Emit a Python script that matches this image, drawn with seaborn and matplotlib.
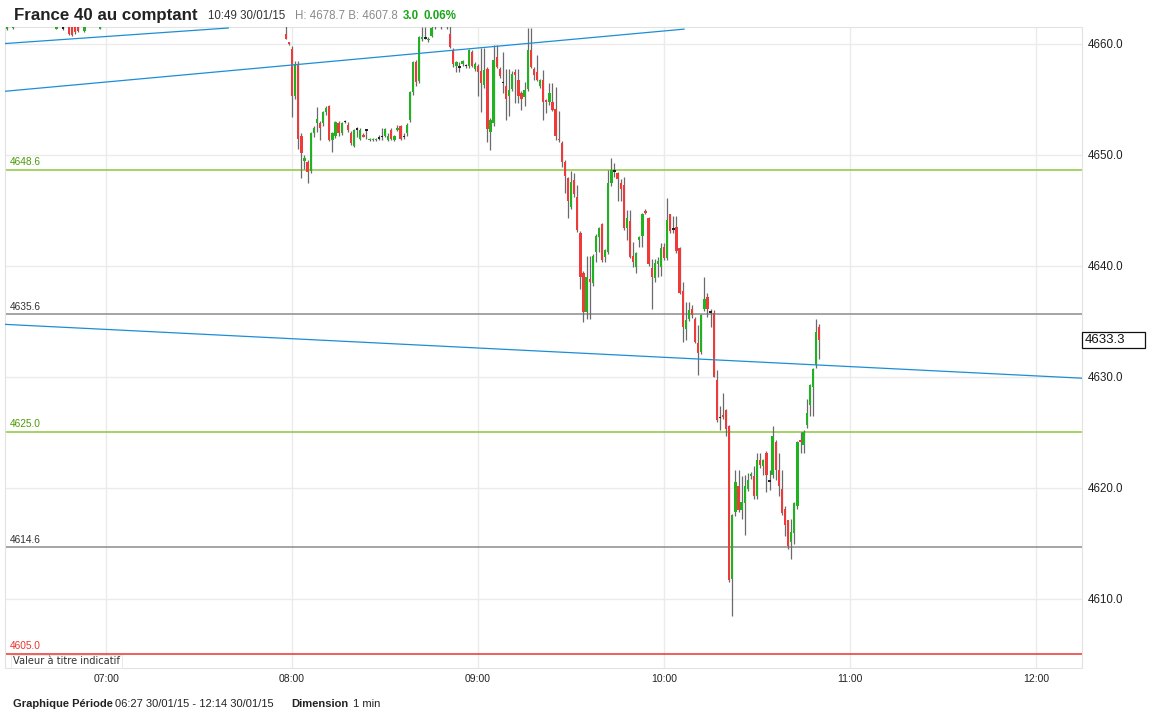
import matplotlib
matplotlib.use("Agg")
import matplotlib.pyplot as plt
import matplotlib.transforms as mtransforms
from matplotlib.patches import Rectangle
import numpy as np
import seaborn as sns

# ---- data -------------------------------------------------------------
# a few pre-08:00 candles, mostly above the visible range (minutes since midnight)
pre_minutes = [388, 390, 404, 406, 408, 409, 410, 411, 413, 418, 478, 479]
pre_open = [4661.3, 4661.4, 4661.3, 4661.4, 4662.0, 4662.2, 4662.1, 4662.0, 4661.1, 4661.3, 4660.9, 4660.1]
pre_high = [4662.2, 4662.1, 4662.0, 4661.8, 4662.3, 4662.4, 4662.3, 4662.2, 4662.0, 4662.2, 4661.6, 4660.1]
pre_low = [4661.2, 4661.3, 4661.3, 4661.2, 4660.8, 4660.7, 4660.9, 4661.0, 4661.0, 4661.3, 4660.4, 4659.9]
pre_close = [4661.8, 4661.9, 4661.6, 4661.4, 4660.9, 4660.8, 4661.0, 4661.1, 4661.8, 4662.0, 4660.4, 4660.0]

# 1 min candles from 08:00
opens = [
    4659.5, 4655.3, 4658.2, 4651.7, 4649.4, 4649.3, 4648.5, 4651.9, 4652.8, 4652.8,
    4652.8, 4653.8, 4654.4, 4651.3, 4651.7, 4652.8, 4651.9, 4653.0, 4652.7, 4651.9,
    4650.8, 4652.3, 4651.4, 4651.8, 4652.2, 4651.3, 4651.3, 4651.3, 4651.5, 4651.6,
    4651.7, 4651.3, 4652.2, 4651.3, 4652.2, 4652.6, 4651.6, 4651.9, 4653.1, 4655.6,
    4658.3, 4656.6, 4660.4, 4660.5, 4660.3, 4660.7, 4661.9, 4662.1, 4662.0, 4661.9,
    4662.0, 4660.9, 4659.4, 4658.0, 4657.9, 4658.2, 4658.0, 4658.0, 4659.2, 4657.7,
    4658.0, 4657.5, 4656.3, 4657.7, 4652.0, 4652.8, 4658.8, 4657.7, 4656.5, 4656.2,
    4655.3, 4655.9, 4657.4, 4656.7, 4655.5, 4655.2, 4655.9, 4659.4, 4657.7, 4657.4,
    4656.2, 4656.7, 4654.9, 4654.7, 4654.7, 4654.1, 4651.4, 4651.0, 4649.3, 4647.9,
    4645.3, 4647.7, 4646.2, 4642.9, 4639.3, 4635.8, 4638.8, 4638.4, 4641.2, 4642.6,
    4643.7, 4640.8, 4641.2, 4647.4, 4648.5, 4648.3, 4647.4, 4647.3, 4643.4, 4644.0,
    4640.9, 4639.9, 4642.3, 4642.7, 4644.9, 4644.3, 4639.8, 4638.9, 4640.1, 4639.9,
    4641.7, 4640.7, 4644.6, 4643.3, 4643.5, 4641.6, 4637.7, 4634.3, 4635.2, 4636.1,
    4635.2, 4633.0, 4632.2, 4636.1, 4637.2, 4635.8, 4635.7, 4629.7, 4626.3, 4626.5,
    4627.0, 4625.5, 4611.8, 4617.8, 4620.1, 4618.0, 4618.6, 4619.9, 4621.0, 4621.0,
    4619.2, 4622.5, 4621.9, 4623.1, 4620.6, 4621.1, 4624.1, 4621.6, 4619.9, 4618.1,
    4617.1, 4615.1, 4615.9, 4618.3, 4624.3, 4623.8, 4625.6, 4627.4, 4629.1, 4631.0,
    4634.5,
]
highs = [
    4659.8, 4658.4, 4658.4, 4651.9, 4650.0, 4649.5, 4652.0, 4652.6, 4654.3, 4653.0,
    4653.9, 4654.4, 4654.5, 4652.0, 4653.0, 4653.0, 4652.9, 4653.1, 4652.9, 4652.1,
    4652.3, 4652.5, 4652.4, 4651.9, 4652.3, 4651.5, 4651.5, 4651.5, 4651.8, 4652.4,
    4652.4, 4651.9, 4652.4, 4651.8, 4652.7, 4652.7, 4651.9, 4652.8, 4655.7, 4658.4,
    4658.5, 4660.7, 4661.5, 4661.5, 4660.6, 4662.0, 4662.5, 4662.6, 4662.4, 4662.3,
    4662.2, 4661.6, 4659.6, 4658.4, 4658.3, 4658.5, 4658.2, 4659.5, 4659.4, 4658.3,
    4658.2, 4659.6, 4659.6, 4657.9, 4653.3, 4659.9, 4659.9, 4657.9, 4659.2, 4657.7,
    4657.7, 4657.5, 4657.7, 4657.7, 4655.7, 4656.5, 4661.4, 4661.4, 4657.9, 4659.0,
    4656.8, 4657.6, 4655.0, 4656.4, 4656.4, 4656.1, 4653.9, 4651.2, 4649.5, 4648.0,
    4648.5, 4648.3, 4647.3, 4643.1, 4639.5, 4640.9, 4640.9, 4641.0, 4642.8, 4643.5,
    4643.8, 4641.5, 4648.6, 4649.7, 4649.2, 4648.4, 4647.8, 4648.0, 4645.0, 4645.0,
    4642.1, 4641.2, 4642.7, 4644.7, 4645.1, 4644.4, 4640.6, 4640.6, 4640.8, 4642.0,
    4642.0, 4646.1, 4644.6, 4644.5, 4644.5, 4641.7, 4638.5, 4636.7, 4636.7, 4636.4,
    4635.4, 4634.6, 4635.6, 4639.0, 4637.5, 4636.1, 4636.0, 4630.6, 4627.3, 4628.5,
    4627.1, 4625.6, 4617.6, 4621.6, 4621.6, 4621.0, 4621.1, 4621.3, 4621.4, 4621.9,
    4623.1, 4623.1, 4622.6, 4623.3, 4621.6, 4625.5, 4624.3, 4623.1, 4621.6, 4618.3,
    4617.1, 4617.2, 4618.7, 4624.2, 4625.0, 4625.2, 4628.0, 4629.3, 4630.8, 4635.2,
    4634.7,
]
lows = [
    4653.4, 4655.0, 4650.5, 4647.9, 4648.7, 4647.4, 4648.3, 4651.6, 4652.0, 4651.3,
    4652.6, 4653.6, 4651.2, 4650.2, 4651.5, 4651.7, 4651.8, 4652.8, 4652.0, 4650.9,
    4650.7, 4651.6, 4651.3, 4651.6, 4651.4, 4651.2, 4651.2, 4651.2, 4651.3, 4651.3,
    4651.6, 4651.2, 4651.3, 4651.2, 4652.1, 4651.3, 4651.4, 4651.7, 4652.9, 4655.4,
    4656.2, 4656.4, 4660.2, 4660.4, 4660.1, 4660.6, 4661.3, 4661.8, 4661.3, 4661.7,
    4661.3, 4659.6, 4657.9, 4657.4, 4657.4, 4658.0, 4657.8, 4657.8, 4657.9, 4657.5,
    4655.3, 4653.8, 4656.0, 4651.1, 4650.4, 4652.6, 4657.8, 4656.9, 4655.5, 4653.1,
    4653.5, 4655.7, 4654.6, 4654.6, 4654.0, 4654.4, 4655.7, 4657.8, 4656.7, 4656.6,
    4656.0, 4653.1, 4653.7, 4654.5, 4653.9, 4651.3, 4651.1, 4648.9, 4646.5, 4644.3,
    4645.1, 4646.2, 4643.0, 4637.9, 4634.9, 4635.2, 4635.2, 4638.2, 4640.3, 4641.2,
    4640.3, 4640.3, 4641.0, 4647.2, 4648.0, 4645.8, 4645.8, 4643.2, 4642.3, 4640.7,
    4639.9, 4639.3, 4641.7, 4641.7, 4644.6, 4640.0, 4636.1, 4638.5, 4639.0, 4639.1,
    4640.5, 4640.5, 4642.9, 4642.9, 4641.1, 4637.4, 4633.1, 4633.3, 4635.0, 4635.3,
    4633.0, 4630.1, 4632.0, 4635.9, 4635.4, 4634.5, 4630.0, 4625.9, 4625.2, 4626.2,
    4624.6, 4611.5, 4608.4, 4617.4, 4617.8, 4617.2, 4615.7, 4619.7, 4620.8, 4619.0,
    4619.0, 4621.8, 4621.1, 4619.6, 4619.8, 4620.9, 4620.7, 4619.2, 4617.5, 4615.6,
    4614.5, 4613.6, 4614.9, 4618.1, 4623.1, 4623.1, 4625.4, 4626.4, 4626.4, 4630.8,
    4631.6,
]
closes = [
    4655.3, 4658.2, 4651.4, 4650.1, 4649.7, 4648.4, 4651.9, 4652.4, 4653.2, 4652.4,
    4653.8, 4654.2, 4651.3, 4651.9, 4652.9, 4651.9, 4652.8, 4653.0, 4652.2, 4651.0,
    4652.2, 4652.3, 4652.2, 4651.6, 4652.2, 4651.4, 4651.4, 4651.4, 4651.5, 4651.6,
    4652.3, 4651.7, 4651.4, 4651.7, 4652.4, 4651.4, 4651.6, 4652.7, 4655.6, 4658.3,
    4656.5, 4660.6, 4660.6, 4660.5, 4660.4, 4661.4, 4662.1, 4662.0, 4661.9, 4662.0,
    4661.6, 4659.7, 4658.2, 4658.3, 4657.9, 4658.4, 4658.0, 4659.4, 4658.0, 4658.2,
    4657.4, 4656.4, 4657.6, 4652.3, 4653.1, 4658.5, 4657.9, 4657.1, 4656.5, 4655.0,
    4655.8, 4657.3, 4657.2, 4655.3, 4655.0, 4655.8, 4659.4, 4657.9, 4657.2, 4656.7,
    4656.7, 4654.7, 4654.7, 4655.5, 4654.0, 4651.7, 4651.3, 4649.3, 4648.1, 4645.8,
    4647.5, 4646.4, 4643.2, 4639.0, 4635.8, 4639.0, 4638.5, 4640.9, 4642.7, 4643.4,
    4640.5, 4641.4, 4647.4, 4648.6, 4648.5, 4647.8, 4646.9, 4643.4, 4644.3, 4640.8,
    4640.3, 4641.1, 4642.6, 4644.6, 4644.7, 4640.1, 4639.0, 4640.2, 4640.4, 4641.6,
    4640.7, 4644.1, 4643.1, 4643.3, 4641.3, 4637.5, 4634.5, 4635.1, 4636.0, 4635.5,
    4633.1, 4632.1, 4635.5, 4637.0, 4636.1, 4635.8, 4630.0, 4626.1, 4626.3, 4626.4,
    4625.3, 4611.7, 4617.5, 4620.5, 4618.0, 4618.7, 4620.1, 4620.7, 4621.2, 4619.2,
    4622.5, 4622.0, 4622.5, 4621.1, 4620.6, 4624.6, 4621.6, 4620.1, 4617.7, 4616.6,
    4614.7, 4616.0, 4618.6, 4624.1, 4624.1, 4625.0, 4626.7, 4629.2, 4630.7, 4634.0,
    4633.3,
]

# support / resistance levels
level_prices = [4648.6, 4635.6, 4625.0, 4614.6, 4605.0]
level_colors = ["#8dc63f", "#8c8c8c", "#8dc63f", "#8c8c8c", "#e8352f"]
level_label_colors = ["#4e9a06", "#333333", "#4e9a06", "#333333", "#e8352f"]

# trend lines: (start minute, start price, end minute, end price)
trend_lines = [
    (387.4, 4660.0, 459.5, 4661.4),
    (387.4, 4655.7, 606.5, 4661.3),
    (387.4, 4634.7, 734.8, 4629.85),
]

last_price = 4633.3
hour_ticks = [420, 480, 540, 600, 660, 720]
price_ticks = [4610, 4620, 4630, 4640, 4650, 4660]

GREEN = "#1fb41f"
RED = "#f03a3a"
BLUE = "#1b8fd6"

# ---- figure -----------------------------------------------------------
sns.set_style("white")
plt.rcParams["font.family"] = ["Liberation Sans", "DejaVu Sans"]

W, H = 1152, 715
fig = plt.figure(figsize=(W / 100, H / 100), dpi=100)
ax = fig.add_axes([5 / W, 1 - 668 / H, 1077 / W, 641 / H])

t = np.concatenate([pre_minutes, 480 + np.arange(len(opens))])
o = np.array(pre_open + opens)
hi = np.array(pre_high + highs)
lo = np.array(pre_low + lows)
c = np.array(pre_close + closes)

body = np.abs(c - o)
body_h = np.maximum(body, 0.13)
bottom = np.minimum(o, c) - (body_h - body) / 2
colors = np.where(c > o, GREEN, np.where(c < o, RED, "#222222"))

ax.vlines(t, lo, hi, color="#6a6a6a", lw=0.9, zorder=3)
ax.bar(t, body_h, bottom=bottom, width=0.75, color=colors, lw=0, zorder=4)

# levels
for p, col, tcol in zip(level_prices, level_colors, level_label_colors):
    ax.axhline(p, color=col, lw=1.1, zorder=2)
    ax.annotate(f"{p:.1f}", xy=(5 / 1077, p), xycoords=("axes fraction", "data"),
                xytext=(0, 2), textcoords="offset points", ha="left", va="bottom",
                fontsize=7.3, color=tcol, zorder=6)

# trend lines
for x0, y0, x1, y1 in trend_lines:
    sns.lineplot(x=[x0, x1], y=[y0, y1], ax=ax, color=BLUE, lw=0.9, zorder=5)

# axes cosmetics
ax.set_xlim(387.4, 734.8)
ax.set_ylim(4603.74, 4661.49)
ax.set_xticks(hour_ticks)
ax.set_xticklabels([f"{m // 60:02d}:{m % 60:02d}" for m in hour_ticks])
ax.set_yticks(price_ticks)
ax.set_yticklabels([f"{v:.1f}" for v in price_ticks])
ax.yaxis.tick_right()
ax.tick_params(axis="both", length=0, colors="#222222")
ax.tick_params(axis="x", pad=4, labelsize=7.5)
ax.tick_params(axis="y", pad=4, labelsize=8.3)
ax.grid(True, color="#ebebeb", lw=1)
ax.set_axisbelow(True)
for s in ax.spines.values():
    s.set_color("#e2e2e2")
    s.set_linewidth(0.8)
ax.set_xlabel("")
ax.set_ylabel("")
if ax.get_legend():
    ax.get_legend().remove()

# last price box on the right
blend = mtransforms.blended_transform_factory(ax.transAxes, ax.transData)
ax.add_patch(Rectangle((1.0, last_price - 0.75), 63 / 1077, 1.5, transform=blend,
                       fc="white", ec="#111111", lw=0.9, clip_on=False, zorder=7))
ax.text(1.0 + 3 / 1077, last_price, f"{last_price:.1f}", transform=blend,
        ha="left", va="center", fontsize=9.5, color="#111111", zorder=8, clip_on=False)


def ftext(x, y, s, **kw):
    fig.text(x / W, 1 - y / H, s, ha="left", va="baseline", **kw)


# header
ftext(14, 20, "France 40 au comptant", fontsize=12.2, fontweight="bold", color="#222222")
ftext(208, 19, "10:49 30/01/15", fontsize=8.3, color="#333333")
ftext(295, 19, "H: 4678.7 B: 4607.8", fontsize=8.3, color="#8a8a8a")
ftext(403, 19, "3.0", fontsize=8.3, fontweight="bold", color="#19a519")
ftext(423, 19, "0.06%", fontsize=8.3, fontweight="bold", color="#19a519")

# footer
ftext(13, 707, "Graphique Période", fontsize=8, fontweight="bold", color="#222222")
ftext(115, 707, "06:27 30/01/15 - 12:14 30/01/15", fontsize=8, color="#222222")
ftext(291, 707, "Dimension", fontsize=8, fontweight="bold", color="#222222")
ftext(353, 707, "1 min", fontsize=8, color="#222222")

# disclaimer box, sitting just under the red level line
fig.text(13 / W, 1 - 661.5 / H, "Valeur à titre indicatif", ha="left", va="center",
         fontsize=7.1, family="DejaVu Sans", color="#333333", zorder=1,
         bbox=dict(boxstyle="square,pad=0.2", fc="white", ec="#e6e6e6", lw=0.6))

fig.savefig("out.png", dpi=100)
